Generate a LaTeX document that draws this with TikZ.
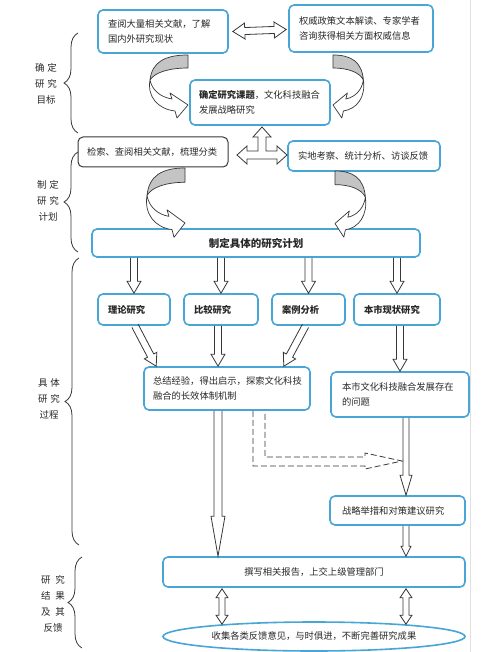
\documentclass[tikz,border=0pt]{standalone}
\usepackage{fontspec}
\setmainfont{Noto Sans CJK SC}
\usetikzlibrary{calc,decorations.pathreplacing,shapes.geometric}
\definecolor{boxblue}{RGB}{72,166,214}
\definecolor{ribbongray}{RGB}{196,196,196}
\definecolor{inkgray}{RGB}{55,55,55}
\definecolor{txt}{RGB}{40,40,40}

\newcommand{\blockarrowdraw}[5]{%
  \coordinate (ba-s) at (#1);
  \coordinate (ba-e) at (#2);
  \coordinate (ba-h) at ($(ba-e)!#5!(ba-s)$);
  \draw[harrow] ($(ba-s)!#3!90:(ba-e)$) -- ($(ba-h)!#3!90:(ba-e)$) -- ($(ba-h)!#4!90:(ba-e)$) -- (ba-e) -- ($(ba-h)!#4!-90:(ba-e)$) -- ($(ba-h)!#3!-90:(ba-e)$) -- ($(ba-s)!#3!-90:(ba-e)$);
}
\newcommand{\dblockarrowdraw}[5]{%
  \coordinate (da-s) at (#1);
  \coordinate (da-e) at (#2);
  \coordinate (da-h1) at ($(da-s)!#5!(da-e)$);
  \coordinate (da-h2) at ($(da-e)!#5!(da-s)$);
  \draw[harrow] (da-s) -- ($(da-h1)!#4!90:(da-e)$) -- ($(da-h1)!#3!90:(da-e)$) -- ($(da-h2)!#3!90:(da-e)$) -- ($(da-h2)!#4!90:(da-e)$) -- (da-e) -- ($(da-h2)!#4!-90:(da-e)$) -- ($(da-h2)!#3!-90:(da-e)$) -- ($(da-h1)!#3!-90:(da-e)$) -- ($(da-h1)!#4!-90:(da-e)$) -- cycle;
}

\tikzset{
  base/.style={font=\fontsize{9.3}{15.5}\selectfont, text=txt},
  bbox/.style={base, draw=boxblue, line width=1.6pt, rounded corners=5pt, inner ysep=2pt, inner xsep=10pt, align=left},
  kbox/.style={base, draw=inkgray, line width=1pt, rounded corners=5pt, inner ysep=2pt, inner xsep=9pt, align=left},
  harrow/.style={draw=inkgray, line width=0.8pt, line join=miter},
  dasharrow/.style={draw=inkgray, line width=0.8pt, dash pattern=on 6pt off 3pt},
  bracestyle/.style={draw=inkgray, line width=0.8pt, decorate, decoration={brace, amplitude=14pt}},
  lab/.style={base, font=\fontsize{9.5}{16}\selectfont, align=center},
  ribbonline/.style={draw=inkgray, line width=0.7pt, line join=round},
  curvearrow/.pic={
    \fill[ribbongray] (0,0) .. controls (-23,0) and (-36,7) .. (-38,25) .. controls (-33,17) and (-18,13) .. (0,13) -- cycle;
    \draw[ribbonline] (0,0) .. controls (-23,0) and (-36,7) .. (-38,25) .. controls (-33,17) and (-18,13) .. (0,13) -- cycle;
    \draw[ribbonline, fill=white] (-38,25) .. controls (-36,35) and (-28,42) .. (-16,44) -- (-18,38) -- (0,50) -- (-11,63) -- (-13,56) .. controls (-30,54) and (-41,42) .. (-38,25) -- cycle;
  }
}

\begin{document}
\begin{tikzpicture}[x=1pt,y=-1pt]
\fill[white] (0,0) rectangle (500,652);
\useasboundingbox (0,0) rectangle (500,652);
\draw[gray!25, line width=1pt] (470,0) -- (470,652);

% section 1
\node[bbox, minimum width=130pt, minimum height=43pt, text width=110pt] (A) at (163,31.5) {查阅大量相关文献，了解\\国内外研究现状};
\node[bbox, minimum width=144pt, minimum height=47pt, text width=124pt] (B) at (361,28.5) {权威政策文本解读、专家学者\\咨询获得相关方面权威信息};
\node[bbox, minimum width=140pt, minimum height=45pt, text width=122pt, inner xsep=9pt] (C) at (260,102.5) {\textbf{确定研究课题}，文化科技融合\\发展战略研究};

% section 2
\node[kbox, minimum width=150pt, minimum height=30pt, text width=132pt] (D) at (153,152) {检索、查阅相关文献，梳理分类};
\node[bbox, minimum width=152pt, minimum height=30pt, text width=132pt] (E) at (364,156) {实地考察、统计分析、访谈反馈};
\node[bbox, minimum width=328pt, minimum height=28pt, text width=308pt, align=center, font=\fontsize{10.5}{12}\selectfont\bfseries] (F) at (256,243) {制定具体的研究计划};

% section 3
\node[bbox, minimum width=72pt, minimum height=31pt, text width=52pt] (lilun) at (134,309.5) {\textbf{理论研究}};
\node[bbox, minimum width=74pt, minimum height=31pt, text width=54pt] (bijiao) at (221,309.5) {\textbf{比较研究}};
\node[bbox, minimum width=73pt, minimum height=31pt, text width=53pt] (anli) at (308.5,309.5) {\textbf{案例分析}};
\node[bbox, minimum width=86pt, minimum height=31pt, text width=66pt] (benshi) at (397,309.5) {\textbf{本市现状研究}};
\node[bbox, minimum width=166pt, minimum height=43pt, text width=148pt, inner xsep=9pt] (G) at (227,388.5) {总结经验，得出启示，探索文化科技\\融合的长效体制机制};
\node[bbox, minimum width=138pt, minimum height=45pt, text width=116pt, inner xsep=11pt] (H) at (400,394.5) {本市文化科技融合发展存在\\的问题};
\node[bbox, minimum width=135pt, minimum height=29pt, text width=111pt, inner xsep=12pt] (I) at (397.5,510.5) {战略举措和对策建议研究};

% section 4
\node[bbox, minimum width=302pt, minimum height=30pt, text width=282pt, align=center] (J) at (314,572) {撰写相关报告，上交上级管理部门};
\node[base, ellipse, draw=boxblue, line width=1.6pt, minimum width=302pt, minimum height=29pt, inner sep=2pt] (K) at (314,636.5) {收集各类反馈意见，与时俱进，不断完善研究成果};

% braces and labels
\draw[bracestyle] (78,133) -- (78,33);
\draw[bracestyle] (78,252) -- (78,152);
\draw[bracestyle] (79,545) -- (79,258);
\draw[bracestyle] (82,648) -- (82,557);
\node[lab] (L1) at (46,84) {确\hspace{3pt}定\\研\hspace{3pt}究\\目标};
\node[lab] (L2) at (48,201) {制\hspace{3pt}定\\研\hspace{3pt}究\\计划};
\node[lab] (L3) at (49,399) {具\hspace{3pt}体\\研\hspace{3pt}究\\过程};
\node[lab] (L4) at (53,604) {研\hspace{5pt}究\\结\hspace{5pt}果\\及\hspace{5pt}其\\反馈};

% arrows section 1
\dblockarrowdraw{$(A.east)+(4,0)$}{$(B.west |- A.east)+(-2,-2)$}{3.5pt}{8pt}{12pt}
\pic at (188,55) {curvearrow};
\pic[xscale=-0.8] at (333,55) {curvearrow};

% three-way arrow
\coordinate (tc) at ($(C.south |- 0,155)+(2,0)$);
\draw[harrow, shift={(tc)}] (0,-28) -- (9,-18) -- (4,-18) -- (4,-4) -- (15,-4) -- (15,-9) -- (25,0) -- (15,9) -- (15,4) -- (-15,4) -- (-15,9) -- (-25,0) -- (-15,-9) -- (-15,-4) -- (-4,-4) -- (-4,-18) -- (-9,-18) -- cycle;

% curved arrows section 2
\pic[yscale=1.1] at (185,168) {curvearrow};
\pic[xscale=-0.8, yscale=1.05] at (335,171) {curvearrow};

% section 3 arrows
\blockarrowdraw{lilun.north |- F.south}{lilun.north}{3.5pt}{7pt}{12pt}
\blockarrowdraw{bijiao.north |- F.south}{bijiao.north}{3.5pt}{7pt}{12pt}
\blockarrowdraw{anli.north |- F.south}{anli.north}{3.5pt}{7pt}{12pt}
\blockarrowdraw{benshi.north |- F.south}{benshi.north}{3.5pt}{7pt}{12pt}
\blockarrowdraw{$(lilun.south)+(1,0)$}{$(G.north west)+(13,0)$}{3.5pt}{7pt}{12pt}
\blockarrowdraw{$(bijiao.south)+(-3,0)$}{$(bijiao.south |- G.north)+(-3,0)$}{3.5pt}{7pt}{12pt}
\blockarrowdraw{$(anli.south)+(-3,0)$}{$(G.north east)+(-27,0)$}{3.5pt}{7pt}{12pt}
\blockarrowdraw{$(benshi.south)+(3,0)$}{$(benshi.south |- H.north)+(3,0)$}{3.5pt}{7pt}{12pt}
\blockarrowdraw{$(G.south)+(-9,0)$}{$(G.south |- J.north)+(-9,0)$}{4pt}{7pt}{40pt}
\blockarrowdraw{$(H.south)+(6,0)$}{$(H.south |- I.north)+(6,0)$}{3pt}{6pt}{20pt}
\blockarrowdraw{$(I.south)+(8.5,0)$}{$(I.south |- J.north)+(8.5,0)$}{3pt}{5pt}{10pt}

% dashed arrow
\coordinate (dtip) at ($(H.south |- 0,461)+(2,0)$);
\draw[dasharrow] ($(G.south)+(26,0)$) |- ($(dtip)+(-37,5)$) -- ($(dtip)+(-37,8)$) -- (dtip) -- ($(dtip)+(-37,-8)$) -- ($(dtip)+(-37,-4)$) -| ($(G.south)+(38,0)$);

% section 4 arrows
\dblockarrowdraw{$(J.south)+(-92,1)$}{$(J.south |- K.north)+(-92,3)$}{3pt}{6pt}{9pt}
\dblockarrowdraw{$(J.south)+(92,1)$}{$(J.south |- K.north)+(92,3)$}{3pt}{6pt}{9pt}
\end{tikzpicture}
\end{document}
